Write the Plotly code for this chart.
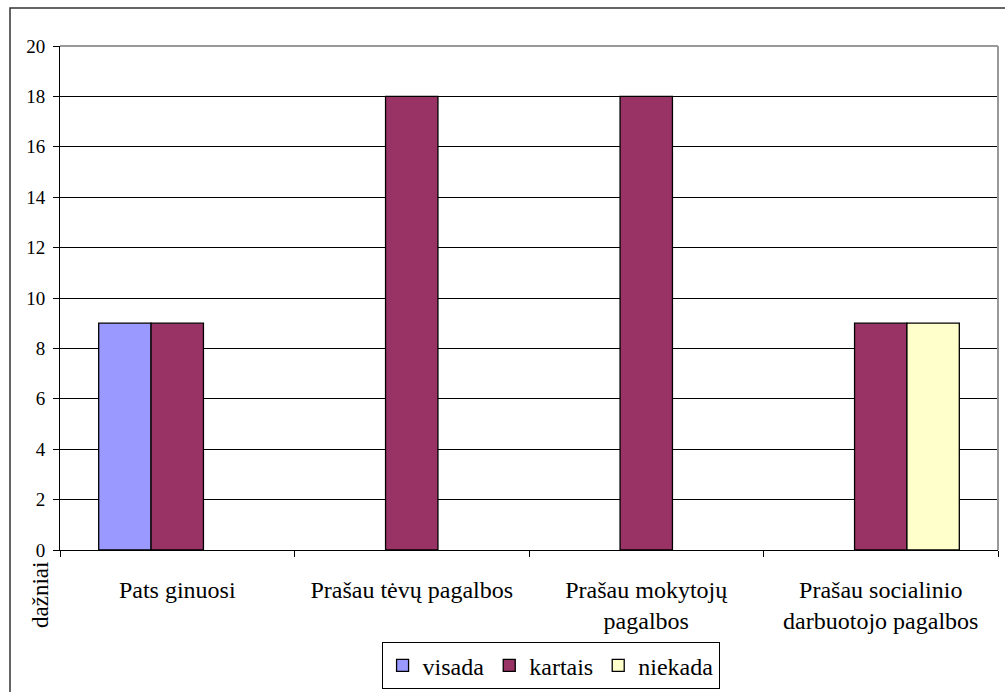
import plotly.graph_objects as go

categories = ["Pats ginuosi", "Prašau tėvų pagalbos", "Prašau mokytojų<br>pagalbos",
              "Prašau socialinio<br>darbuotojo pagalbos"]
visada = [9, 0, 0, 0]
kartais = [9, 18, 18, 9]
niekada = [0, 0, 0, 9]
series = [("visada", visada, "#9999FF"), ("kartais", kartais, "#993366"), ("niekada", niekada, "#FFFFCC")]
y_ticks = list(range(0, 21, 2))

W, H = 1005, 692
L, R, T, B = 60, 7, 46, 142
pw, ph = W - L - R, H - T - B

fig = go.Figure()
for name, vals, col in series:
    fig.add_trace(go.Bar(name=name, x=categories, y=[v if v else None for v in vals],
                         marker=dict(color=col, line=dict(color="black", width=1.3))))

font = "Liberation Serif"
fig.update_layout(
    width=W, height=H, margin=dict(l=L, r=R, t=T, b=B, autoexpand=False),
    paper_bgcolor="white", plot_bgcolor="white",
    barmode="group", bargap=0.33, bargroupgap=0,
    font=dict(family=font, color="black"),
    legend=dict(orientation="h", x=0.523, xanchor="center", y=-0.183, yanchor="top",
                bordercolor="black", borderwidth=1, font=dict(size=24, family=font),
                itemwidth=30, tracegroupgap=0),
    showlegend=True,
)
fig.update_xaxes(tickson="boundaries", ticks="outside", ticklen=6, tickcolor="black",
                 showline=True, linecolor="black", linewidth=1, showgrid=False, automargin=False,
                 tickfont=dict(size=24, family=font), ticklabelstandoff=18)
fig.update_yaxes(range=[0, 20], tickvals=y_ticks, ticks="outside", ticklen=6, tickcolor="black",
                 showline=True, linecolor="black", linewidth=1, showgrid=True, gridcolor="black",
                 gridwidth=1, tickfont=dict(size=19, family=font), zeroline=False, ticklabelstandoff=4,
                 automargin=False)

# plot-area border (grey top and right)
fig.add_shape(type="line", xref="paper", yref="paper", x0=0, x1=1, y0=1, y1=1,
              line=dict(color="#999999", width=2), layer="above")
fig.add_shape(type="line", xref="paper", yref="paper", x0=1, x1=1, y0=0, y1=1,
              line=dict(color="#999999", width=2), layer="above")
# outer chart border
fig.add_shape(type="rect", xref="paper", yref="paper",
              x0=(10 - L) / pw, x1=(W + 5 - L) / pw, y0=-(H + 5 - T - ph) / ph, y1=(T + ph - 8) / ph,
              line=dict(color="#333333", width=1.5), layer="below")

fig.add_annotation(text="dažniai", xref="paper", yref="paper", x=(40 - L) / pw, y=-(595 - T - ph) / ph,
                   textangle=-90, showarrow=False, font=dict(size=23, family=font),
                   xanchor="center", yanchor="middle")

fig.write_html("out.html", config={"displayModeBar": False},
               post_script="document.body.style.margin='0';")
